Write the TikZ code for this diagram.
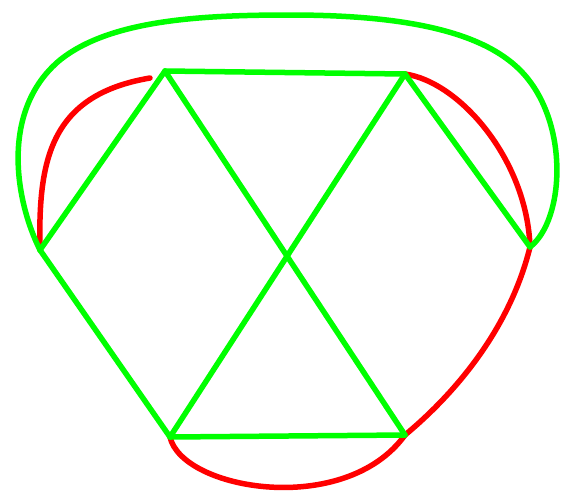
\documentclass[tikz,border=0pt]{standalone}
\usepackage{xcolor}
\usepackage{tikz}
\definecolor{PenGreen}{HTML}{00FF00}
\definecolor{PenRed}{HTML}{FF0000}
\tikzset{
  every picture/.style={line width=5.5pt, line cap=round, line join=round},
  greenedge/.style={draw=PenGreen},
  rededge/.style={draw=PenRed}
}

\begin{document}
\begin{tikzpicture}[x=1pt,y=-1pt]
  \useasboundingbox (0,0) rectangle (575,493);

  \coordinate (topl) at (165,71);
  \coordinate (topr) at (405,74);
  \coordinate (right) at (530,247);
  \coordinate (botr) at (405,435);
  \coordinate (botl) at (170,437);
  \coordinate (left) at (40,250);
  \coordinate (redend) at (150,78);

  % red edges
  \draw[rededge] (left) .. controls (38,160) and (50,95) .. (redend);
  \draw[rededge] (topr) .. controls (460,82) and (527,160) .. (right);
  \draw[rededge] (right) .. controls (512,320) and (465,385) .. (botr);
  \draw[rededge] (botl) .. controls (182,490) and (345,518) .. (botr);

  % green edges
  \draw[greenedge] (topl) -- (topr);
  \draw[greenedge] (left) -- (topl);
  \draw[greenedge] (topl) -- (botr);
  \draw[greenedge] (topr) -- (botl);
  \draw[greenedge] (topr) -- (right);
  \draw[greenedge] (left) -- (botl);
  \draw[greenedge] (botl) -- (botr);
  \draw[greenedge] (left) .. controls (15,200) and (0,110) .. (60,60)
    .. controls (110,20) and (200,15) .. (290,15)
    .. controls (400,15) and (480,30) .. (520,70)
    .. controls (570,120) and (565,220) .. (right);
\end{tikzpicture}
\end{document}
